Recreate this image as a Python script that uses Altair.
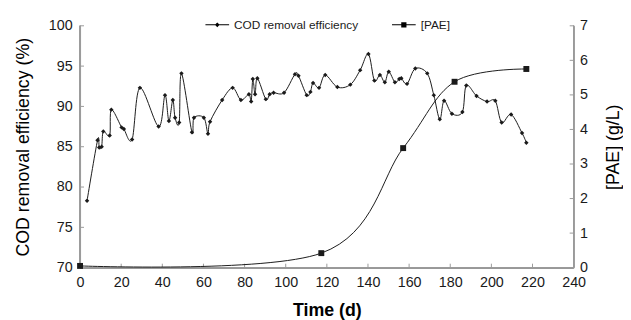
import altair as alt
import pandas as pd

# ---------------- data ----------------
cod_day = [3.4, 8.5, 9.3, 10.5, 11.3, 14.4, 15.2, 20.2, 21.3, 25.3, 29.1, 38.2,
           41.3, 43.2, 45.1, 46.2, 48.2, 49.3, 54.4, 55.4, 60.2, 62.2, 63.2,
           69.1, 74.2, 78.2, 82.1, 83.2, 84.0, 85.1, 86.2, 90.3, 92.2, 94.1,
           99.2, 104.5, 106.2, 110.2, 112.0, 113.3, 116.2, 119.2, 125.1, 131.4,
           136.2, 140.2, 143.1, 145.8, 148.2, 150.1, 153.1, 155.2, 156.2, 159.0,
           163.0, 168.8, 172.0, 174.9, 177.0, 180.8, 185.9, 187.8, 192.8, 197.9,
           201.9, 205.0, 209.6, 214.9, 217.0]
cod_val = [78.3, 85.8, 84.9, 85.0, 86.9, 86.4, 89.6, 87.4, 87.2, 85.9, 92.3, 87.5,
           91.4, 88.2, 90.8, 88.6, 88.0, 94.1, 86.8, 88.6, 88.6, 86.6, 88.1,
           90.8, 92.3, 90.8, 91.5, 90.6, 93.4, 91.5, 93.5, 90.9, 91.5, 91.7,
           91.7, 94.0, 93.8, 91.4, 91.8, 92.9, 92.3, 93.9, 92.4, 92.7,
           94.5, 96.5, 93.2, 93.9, 93.0, 94.3, 93.0, 93.4, 93.5, 92.8,
           94.7, 94.1, 91.4, 88.4, 90.7, 89.1, 89.3, 92.6, 91.3, 90.6,
           90.7, 88.0, 89.0, 86.7, 85.5]
pae_day = [0.0, 117.3, 157.1, 182.1, 217.0]
pae_val = [0.05, 0.42, 3.46, 5.38, 5.75]

series_names = ["COD removal efficiency", "[PAE]"]
x_ticks = [0, 20, 40, 60, 80, 100, 120, 140, 160, 180, 200, 220, 240]
left_ticks = [70, 75, 80, 85, 90, 95, 100]
right_ticks = [0, 1, 2, 3, 4, 5, 6, 7]

# ---------------- styling ----------------
FONT = "Liberation Sans"
GRAY = "#9a9a9a"
INK = "#1a1a1a"
W, H = 500, 245

cod_df = pd.DataFrame({"day": cod_day, "cod": cod_val})
pae_df = pd.DataFrame({"day": pae_day, "pae": pae_val})
xt_df = pd.DataFrame({"day": x_ticks})
lt_df = pd.DataFrame({"cod": left_ticks})
rt_df = pd.DataFrame({"pae": right_ticks})

x_scale = alt.Scale(domain=[0, 240], nice=False, zero=False)
yl_scale = alt.Scale(domain=[70, 100], nice=False, zero=False)
yr_scale = alt.Scale(domain=[0, 7], nice=False, zero=False)

common = dict(ticks=False, grid=False, domain=True, domainColor=GRAY,
              domainWidth=1, labelFlush=False,
              labelFont=FONT, labelFontSize=14.5, labelColor=INK,
              titleFont=FONT, titleFontSize=18, titleColor="black")

x_axis = alt.Axis(values=x_ticks, title="Time (d)", titleFontWeight="bold",
                  titlePadding=13, labelPadding=8, **common)
yl_axis = alt.Axis(values=left_ticks, title="COD removal efficiency (%)",
                   titleFontWeight="normal", titlePadding=16, labelPadding=8,
                   **common)
yr_axis = alt.Axis(values=right_ticks, title="[PAE] (g/L)", orient="right",
                   titleFontWeight="normal", titleAngle=270, titlePadding=35,
                   labelPadding=6, **common)

# legend symbols: a thin bar (the line) with the marker in its middle
path_cod = ("M-1,-0.045L1,-0.045L1,0.045L-1,0.045Z"
            "M0,-0.2L0.2,0L0,0.2L-0.2,0Z")
path_pae = ("M-1,-0.045L1,-0.045L1,0.045L-1,0.045Z"
            "M-0.22,-0.22L0.22,-0.22L0.22,0.22L-0.22,0.22Z")

X = alt.X("day:Q", scale=x_scale, axis=x_axis)
YL = alt.Y("cod:Q", scale=yl_scale, axis=yl_axis)
YR = alt.Y("pae:Q", scale=yr_scale, axis=yr_axis)

cod_line = alt.Chart(cod_df).mark_line(
    interpolate="cardinal", color=INK, strokeWidth=1
).encode(x=X, y=YL)

cod_pts = alt.Chart(cod_df).mark_point(
    shape="diamond", filled=True, size=20, color=INK, opacity=1
).encode(x=X, y=YL)

# inward ticks of the left and bottom axes
left_tick_rule = alt.Chart(lt_df).mark_rule(color=GRAY).encode(
    y=YL, x=alt.value(0), x2=alt.value(4))
bottom_tick_rule = alt.Chart(xt_df).mark_rule(color=GRAY).encode(
    x=X, y=alt.value(H - 4), y2=alt.value(H))

# frame lines (left, bottom, right) in the axis grey
left_line = alt.Chart(lt_df).mark_rule(color=GRAY).encode(
    x=alt.value(0), y=alt.value(0), y2=alt.value(H))
bottom_line = alt.Chart(xt_df).mark_rule(color=GRAY).encode(
    x=alt.value(0), x2=alt.value(W), y=alt.value(H))
right_line = alt.Chart(rt_df).mark_rule(color=GRAY).encode(
    x=alt.value(W), y=alt.value(0), y2=alt.value(H))

legend_layer = alt.Chart(cod_df.head(2).assign(series=series_names)).mark_point(
    filled=True, color="black", opacity=0
).encode(
    x=X, y=YL,
    shape=alt.Shape("series:N",
                    scale=alt.Scale(domain=series_names, range=[path_cod, path_pae]),
                    legend=alt.Legend(
                        title=None, orient="none", legendX=127, legendY=-13,
                        direction="horizontal", symbolSize=576,
                        symbolStrokeWidth=0, symbolFillColor=INK,
                        symbolStrokeColor=INK, symbolOpacity=1,
                        labelFont=FONT, labelFontSize=12, labelColor=INK,
                        labelOffset=5, columnPadding=34, labelLimit=300))
)

left_group = alt.layer(left_line, bottom_line, left_tick_rule, bottom_tick_rule,
                       cod_line, cod_pts, legend_layer)

pae_line = alt.Chart(pae_df).mark_line(
    interpolate="cardinal", color=INK, strokeWidth=1
).encode(x=X, y=YR)

pae_pts = alt.Chart(pae_df).mark_point(
    shape="square", filled=True, size=36, color=INK, opacity=1
).encode(x=X, y=YR)

right_tick_rule = alt.Chart(rt_df).mark_rule(color=GRAY).encode(
    y=YR, x=alt.value(W - 4), x2=alt.value(W))

right_group = alt.layer(right_line, right_tick_rule, pae_line, pae_pts)

chart = alt.layer(left_group, right_group).resolve_scale(
    y="independent"
).properties(
    width=W, height=H,
    autosize=alt.AutoSizeParams(type="none"),
    padding={"left": 73, "top": 16, "right": 50, "bottom": 51},
).configure_view(stroke=None)

chart.save("out.html", embed_options={"renderer": "svg", "actions": False})
